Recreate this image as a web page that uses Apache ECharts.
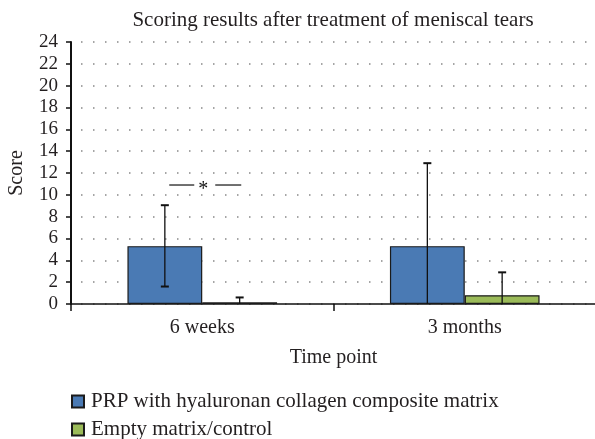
<!DOCTYPE html>
<html>
<head>
<meta charset="utf-8">
<script src="https://cdn.jsdelivr.net/npm/echarts@6/dist/echarts.min.js"></script>
<style>
  html, body { margin: 0; padding: 0; background: #fff; }
  #chart { width: 595px; height: 439px; }
</style>
</head>
<body>
<div id="chart"></div>
<script>
// categories and values
const categories = ['6 weeks', '3 months'];
const seriesNames = ['PRP with hyaluronan collagen composite matrix', 'Empty matrix/control'];
const prpMean = [5.3, 5.3];
const controlMean = [0.15, 0.8];
// error bar ends (lower end clipped at 0 where hidden)
const prpLow = [1.6, 0];
const prpHigh = [9.05, 12.9];
const controlLow = [0, 0];
const controlHigh = [0.6, 2.9];
// significance bracket over 6 weeks
const sigCategory = 0;
const sigLevel = 10.9;

const FONT = '"Liberation Serif", "DejaVu Serif", serif';
const TEXT = '#231f20';
const GAP = 0.43;

const chart = echarts.init(document.getElementById('chart'));

// error bar drawn at the position of the bar with the given index (0 left, 1 right)
function errorBarItem (barIndex) {
  return function (params, api) {
    const cat = api.value(0);
    const lo = api.value(1);
    const hi = api.value(2);
    const band = api.size([1, 0])[0];
    const barW = band * (1 - GAP) / 2;
    const c = api.coord([cat, 0]);
    const x = c[0] + (barIndex === 0 ? -barW / 2 : barW / 2);
    const yLo = api.coord([cat, lo])[1];
    const yHi = api.coord([cat, hi])[1];
    const capStyle = { stroke: '#111', lineWidth: 2 };
    const children = [
      { type: 'line', shape: { x1: x, y1: yLo, x2: x, y2: yHi }, style: { stroke: '#111', lineWidth: 1.3 } },
      { type: 'line', shape: { x1: x - 4, y1: yHi, x2: x + 4, y2: yHi }, style: capStyle }
    ];
    if (lo > 0) {
      children.push({ type: 'line', shape: { x1: x - 4, y1: yLo, x2: x + 4, y2: yLo }, style: capStyle });
    }
    return { type: 'group', children: children };
  };
}

function sigItem (params, api) {
  const p = api.coord([api.value(0), api.value(1)]);
  const cx = p[0] + 3;
  const y = p[1];
  const style = { stroke: '#111', lineWidth: 1.2 };
  return {
    type: 'group',
    children: [
      { type: 'line', shape: { x1: cx - 36, y1: y, x2: cx - 11, y2: y }, style: style },
      { type: 'line', shape: { x1: cx + 10, y1: y, x2: cx + 36, y2: y }, style: style },
      { type: 'text', x: cx - 2, y: y + 5, style: { text: '*', font: '20px ' + FONT, fill: '#111', align: 'center', verticalAlign: 'middle' } }
    ]
  };
}

const legendText = { fontFamily: FONT, fontSize: 21, color: TEXT, padding: [0, 0, 0, 2] };

const option = {
  animation: false,
  textStyle: { fontFamily: FONT, color: TEXT },
  title: {
    text: 'Scoring results after treatment of meniscal tears',
    left: 328,
    textAlign: 'center',
    top: 5,
    textStyle: { fontFamily: FONT, fontSize: 21, fontWeight: 'normal', color: TEXT }
  },
  legend: [
    {
      left: 66, top: 386, itemWidth: 12, itemHeight: 12, icon: 'rect',
      data: [seriesNames[0]], textStyle: legendText
    },
    {
      left: 66, top: 414, itemWidth: 12, itemHeight: 12, icon: 'rect',
      data: [seriesNames[1]], textStyle: legendText
    }
  ],
  grid: { left: 71, right: -1, top: 42, bottom: 135, containLabel: false, outerBoundsMode: 'none' },
  xAxis: {
    type: 'category',
    data: categories,
    name: 'Time point',
    nameLocation: 'middle',
    nameGap: 44,
    nameTextStyle: { fontFamily: FONT, fontSize: 20, color: TEXT },
    axisLine: { lineStyle: { color: '#111', width: 1.5 } },
    axisTick: { show: true, length: 7, lineStyle: { color: '#111', width: 1.5 } },
    axisLabel: { fontFamily: FONT, fontSize: 20, color: TEXT, margin: 14 }
  },
  yAxis: {
    type: 'value',
    min: 0,
    max: 24,
    interval: 2,
    name: 'Score',
    nameLocation: 'middle',
    nameGap: 44,
    nameTextStyle: { fontFamily: FONT, fontSize: 20, color: TEXT },
    axisLine: { show: true, lineStyle: { color: '#111', width: 2 } },
    axisTick: { show: true, length: 5, lineStyle: { color: '#111', width: 1.5 } },
    axisLabel: { fontFamily: FONT, fontSize: 19, color: TEXT, margin: 13 },
    splitLine: { show: true, lineStyle: { color: '#888', width: 1.5, type: [1.5, 10.5], dashOffset: -10 } }
  },
  series: [
    {
      name: seriesNames[0],
      type: 'bar',
      data: prpMean,
      barGap: '0%',
      barCategoryGap: (GAP * 100) + '%',
      itemStyle: { color: '#4a7ab4', borderColor: '#1b1b1b', borderWidth: 1.2 }
    },
    {
      name: seriesNames[1],
      type: 'bar',
      data: controlMean,
      itemStyle: { color: '#9bbb59', borderColor: '#1b1b1b', borderWidth: 1.2 }
    },
    {
      type: 'custom',
      renderItem: errorBarItem(0),
      data: categories.map((c, i) => [i, prpLow[i], prpHigh[i]]),
      z: 10,
      silent: true
    },
    {
      type: 'custom',
      renderItem: errorBarItem(1),
      data: categories.map((c, i) => [i, controlLow[i], controlHigh[i]]),
      z: 10,
      silent: true
    },
    {
      type: 'custom',
      renderItem: sigItem,
      data: [[sigCategory, sigLevel]],
      z: 10,
      silent: true
    }
  ]
};

chart.setOption(option);
</script>
</body>
</html>
